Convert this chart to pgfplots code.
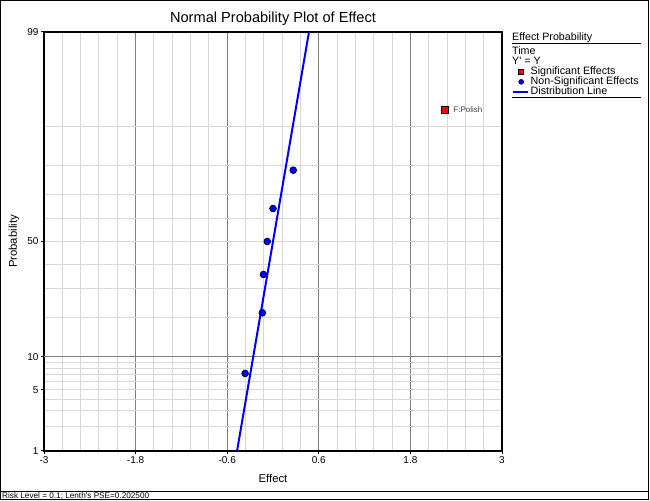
\documentclass[border=0pt]{standalone}
\usepackage{pgfplots}
\pgfplotsset{compat=1.18}
\usepackage{fontspec}
\setmainfont{Liberation Sans}
\definecolor{lightgrid}{RGB}{216,216,216}
\definecolor{darkgrid}{RGB}{128,128,128}
\definecolor{ptblue}{RGB}{0,0,255}
\pgfplotsset{
  markleg/.style={legend image code/.code={\path (0bp,0bp) (15bp,0bp); \draw[##1, mark size=2.4bp] plot coordinates {(8bp,0bp)};}},
  lineleg/.style={legend image code/.code={\draw[##1] (0bp,0bp) -- (15bp,0bp);}},
}
\begin{document}
\begin{tikzpicture}[x=1bp,y=1bp]
\path[use as bounding box] (0,0) rectangle (650,501);
\draw[line width=1bp] (0.5,1.5) rectangle (648.5,500.5);
\draw[line width=1bp] (0.5,9.5) -- (648.5,9.5);
\node[anchor=base west, font=\fontsize{8.2bp}{9bp}\selectfont, inner sep=0pt] at (2,2.4) {Risk Level = 0.1; Lenth\textquotesingle s PSE=0.202500};
\begin{axis}[
  at={(44bp,50bp)}, anchor=south west, scale only axis,
  width=458bp, height=419bp,
  xmin=-3, xmax=3, ymin=-2.3263, ymax=2.3263,
  axis line style={line width=1.2bp, black},
  /pgf/number format/assume math mode=true,
  xtick={-3,-1.8,-0.6,0.6,1.8,3},
  xticklabels={-3,-1.8,-0.6,0.6,1.8,3},
  minor x tick num=4,
  ytick={-2.3263,-1.6449,-1.2816,0,2.3263},
  yticklabels={1,5,10,50,99},
  minor ytick={-2.0537,-1.8808,-1.7507,-1.5548,-1.4758,-1.4051,-1.3408,-0.8416,-0.5244,-0.2533,0.2533,0.5244,0.8416,1.2816},
  xmajorgrids, xminorgrids, ymajorgrids, yminorgrids,
  major x grid style={darkgrid, line width=1bp},
  minor x grid style={lightgrid, line width=1bp},
  major y grid style={lightgrid, line width=1bp},
  minor y grid style={lightgrid, line width=1bp},
  tick align=outside, xtick pos=bottom, ytick pos=left,
  major tick length=3bp, minor tick length=0pt,
  tick style={black, line width=1bp},
  ticklabel style={font=\fontsize{10bp}{12bp}\selectfont},
  xticklabel style={yshift=1bp},
  yticklabel style={xshift=1bp},
  title={Normal Probability Plot of Effect},
  every axis title shift=0pt,
  title style={font=\fontsize{14.6bp}{18bp}\selectfont, at={(axis description cs:0.5,1.0222)}, anchor=base, yshift=0pt},
  xlabel={Effect},
  xlabel style={font=\fontsize{11.3bp}{13bp}\selectfont, at={(axis description cs:0.5,-0.0644)}, anchor=center},
  ylabel={Probability},
  ylabel style={font=\fontsize{11.3bp}{13bp}\selectfont, at={(axis description cs:-0.0655,0.5)}, anchor=center},
  legend style={at={(axis description cs:1.0218,0.9172)}, anchor=north west, draw=none, fill=none,
    inner sep=0pt, row sep=0pt, column sep=1.5bp,
    font=\fontsize{10.7bp}{12bp}\selectfont,
    nodes={inner sep=0pt, text height=7.8bp, text depth=2.2bp}},
  legend cell align=left,
  clip=false,
]
\draw[darkgrid, line width=1bp] (axis cs:-3,-1.2816) -- (axis cs:3,-1.2816);
\addplot[only marks, mark=square*, mark size=3.5bp,
  mark options={fill=red, draw=black, line width=0.8bp},
  nodes near coords={F:Polish},
  nodes near coords style={anchor=west, font=\fontsize{8bp}{9bp}\selectfont, text=darkgray, xshift=5bp},
  markleg]
  coordinates {(2.25,1.4652)};
\addlegendentry{Significant Effects}
\addplot[only marks, mark=*, mark size=3.4bp,
  mark options={fill=ptblue, draw=black!75!blue, line width=0.7bp},
  markleg]
  coordinates {(-0.365,-1.4652) (-0.14,-0.7916) (-0.125,-0.3661) (-0.075,0) (0.0,0.3661) (0.265,0.7916)};
\addlegendentry{Non-Significant Effects}
\addplot[ptblue, line width=2bp, no marks, lineleg]
  coordinates {(-0.4711,-2.3263) (0.4711,2.3263)};
\addlegendentry{Distribution Line}
\end{axis}
\node[anchor=base west, font=\fontsize{10.7bp}{12bp}\selectfont, inner sep=0pt] at (512,460.3) {Effect Probability};
\draw[line width=1bp] (512,457.5) -- (641,457.5);
\node[anchor=base west, font=\fontsize{10.7bp}{12bp}\selectfont, inner sep=0pt] at (512,446.3) {Time};
\node[anchor=base west, font=\fontsize{10.7bp}{12bp}\selectfont, inner sep=0pt] at (512,436.3) {Y\textquotesingle{} = Y};
\draw[line width=1bp] (512,403) -- (641,403);
\end{tikzpicture}
\end{document}
